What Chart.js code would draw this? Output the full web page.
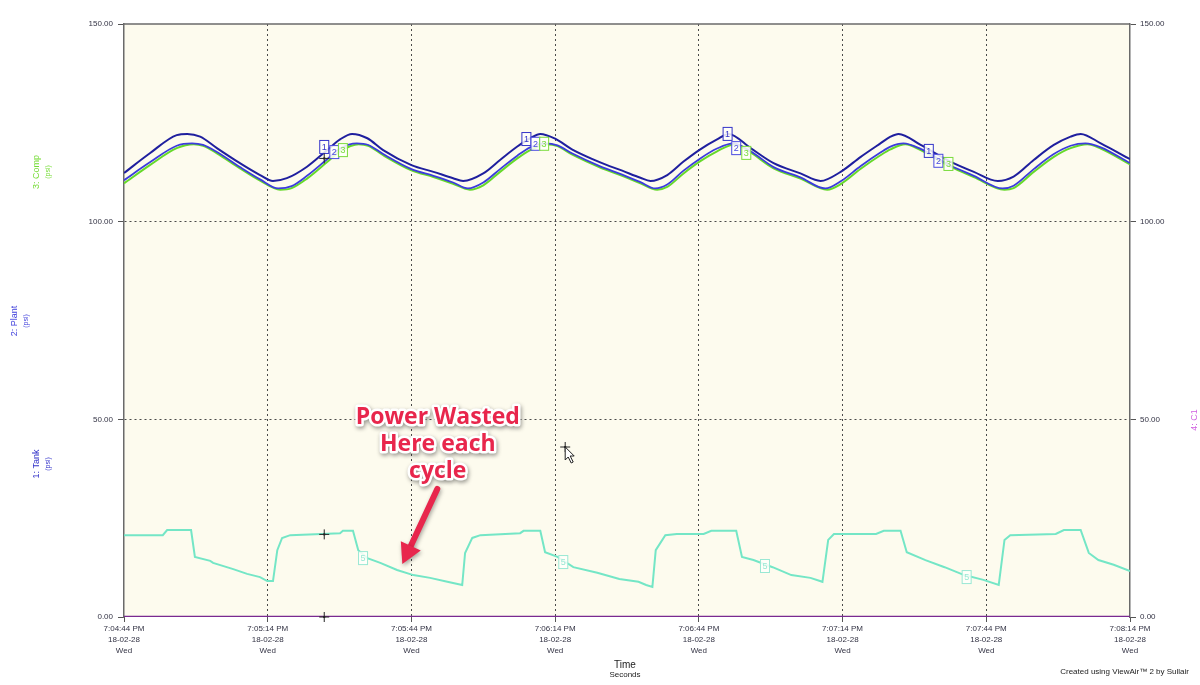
<!DOCTYPE html>
<html>
<head>
<meta charset="utf-8">
<title>Tank, plant and compressor pressure</title>
<script src="https://cdn.jsdelivr.net/npm/chart.js@4.4.1/dist/chart.umd.min.js"></script>
<style>
  html, body { margin: 0; padding: 0; background: #ffffff; }
  #wrap { width: 1200px; height: 685px; }
</style>
</head>
<body>
<div id="wrap"><canvas id="pressureChart" width="1200" height="685"></canvas></div>
<script>
// time axis, seconds after 7:04:44 PM
const tickSeconds = [0, 30, 60, 90, 120, 150, 180, 210];
const tickTimes = ["7:04:44 PM", "7:05:14 PM", "7:05:44 PM", "7:06:14 PM", "7:06:44 PM", "7:07:14 PM", "7:07:44 PM", "7:08:14 PM"];
const tickDate = "18-02-28";
const tickDay = "Wed";

// 1: Tank (psi)
const tankTime = [0, 5.4, 11.0, 13.2, 15.9, 19.4, 24.2, 28.4, 31.1, 34.0, 38.2, 42.4, 45.1, 47.6, 50.8, 54.1, 60.0, 64.6, 68.7, 70.8,
  75.0, 78.5, 82.1, 84.8, 86.9, 90.0, 93.5, 99.4, 104.0, 107.8, 109.9, 113.4, 116.8, 120.3, 123.8, 126.2, 130.8, 135.6, 141.2, 145.4,
  149.6, 153.8, 157.9, 160.0, 161.7, 166.3, 172.5, 177.4, 182.4, 185.7, 189.9, 194.1, 197.6, 199.7, 203.9, 210];
const tankPsi = [112.3, 117.3, 121.9, 122.2, 121.5, 118.6, 114.8, 111.8, 110.3, 111.0, 113.9, 118.1, 120.8, 122.2, 121.1, 118.1, 114.3, 112.6, 111.0, 110.3,
  112.2, 115.6, 119.0, 121.1, 122.2, 121.0, 118.3, 115.0, 112.9, 111.1, 110.3, 111.8, 115.2, 118.3, 120.8, 122.2, 118.6, 114.8, 112.2, 110.3,
  112.6, 116.4, 119.8, 121.5, 122.2, 119.4, 115.2, 112.6, 110.3, 111.4, 115.6, 119.4, 121.5, 122.2, 119.8, 115.8];

// 2: Plant (psi)
const plantTime = [0, 5.4, 11.0, 14.2, 16.5, 19.4, 24.2, 28.4, 32.2, 35.0, 38.2, 42.4, 45.1, 48.6, 51.0, 54.1, 60.0, 64.6, 68.7, 71.8,
  75.0, 78.5, 82.1, 84.8, 87.9, 90.5, 93.5, 99.4, 104.0, 107.8, 110.9, 113.4, 116.8, 120.3, 123.8, 127.2, 130.8, 135.6, 141.2, 146.4,
  149.6, 153.8, 157.9, 160.0, 162.7, 166.3, 172.5, 177.4, 183.4, 185.7, 189.9, 194.1, 197.6, 200.7, 203.9, 210];
const plantPsi = [110.5, 115.0, 119.2, 119.8, 119.4, 117.6, 113.8, 110.7, 108.4, 109.0, 111.6, 115.8, 118.5, 119.8, 119.4, 117.1, 113.3, 111.6, 109.9, 108.4,
  109.9, 113.3, 116.7, 118.8, 119.8, 119.3, 117.3, 114.0, 111.9, 110.0, 108.4, 109.4, 112.9, 116.0, 118.5, 119.8, 117.8, 113.8, 111.2, 108.4,
  110.2, 114.1, 117.5, 119.0, 119.8, 118.4, 114.2, 111.6, 108.4, 109.1, 113.3, 117.1, 119.2, 119.8, 118.8, 114.8];

// 3: Comp (psi)
const compTime = [0, 5.4, 11.0, 14.6, 16.5, 19.4, 24.2, 28.4, 32.6, 35.0, 38.2, 42.4, 45.1, 49.0, 51.0, 54.1, 60.0, 64.6, 68.7, 72.2,
  75.0, 78.5, 82.1, 84.8, 88.3, 90.5, 93.5, 99.4, 104.0, 107.8, 111.3, 113.4, 116.8, 120.3, 123.8, 127.6, 130.8, 135.6, 141.2, 146.8,
  149.6, 153.8, 157.9, 160.0, 163.1, 166.3, 172.5, 177.4, 183.8, 185.7, 189.9, 194.1, 197.6, 201.1, 203.9, 210];
const compPsi = [109.7, 114.3, 118.6, 119.6, 119.2, 117.3, 113.5, 110.4, 108.1, 108.5, 110.9, 115.1, 117.8, 119.6, 119.2, 116.8, 113.0, 111.3, 109.6, 108.1,
  109.2, 112.6, 116.0, 118.1, 119.6, 119.1, 117.0, 113.7, 111.6, 109.7, 108.1, 108.8, 112.2, 115.3, 117.8, 119.6, 117.5, 113.5, 110.9, 108.1,
  109.5, 113.4, 116.8, 118.3, 119.6, 118.1, 113.9, 111.3, 108.1, 108.5, 112.6, 116.4, 118.6, 119.6, 118.5, 114.5];

// 4: C1
const c1Time = [0, 210];
const c1Value = [0, 0];

// 5
const ch5Time = [0, 8.1, 9.0, 14.0, 14.8, 18.0, 18.6, 22.8, 25.7, 28.4, 29.9, 31.1, 32.0, 33.0, 34.7,
  45.1, 45.7, 47.8, 48.9, 50.8, 53.5, 57.0, 60.4, 63.9, 67.5, 70.6, 71.2, 72.7, 74.4,
  82.7, 83.4, 86.9, 87.9, 90.5, 93.8, 98.8, 103.4, 107.4, 109.0, 110.3, 111.0, 113.0, 115.4,
  121.0, 122.6, 127.8, 129.0, 131.4, 135.4, 139.3, 143.3, 145.8, 147.0, 148.2,
  157.0, 158.6, 162.1, 163.4, 167.3, 171.3, 175.4, 179.4, 182.6, 183.8, 185.0,
  194.5, 196.2, 199.7, 201.4, 203.4, 206.6, 210];
const ch5Value = [20.7, 20.7, 22.0, 22.0, 15.2, 14.2, 13.7, 12.1, 10.9, 10.1, 9.1, 9.1, 16.9, 20.0, 20.7,
  21.2, 21.8, 21.8, 16.9, 14.9, 13.7, 11.9, 10.6, 9.9, 8.9, 8.1, 16.2, 20.0, 20.7,
  21.2, 21.8, 21.8, 16.4, 15.2, 12.6, 11.2, 9.6, 8.9, 8.1, 7.6, 16.9, 20.7, 21.0,
  21.0, 21.8, 21.8, 15.2, 14.4, 12.6, 10.6, 9.9, 8.9, 19.5, 21.0,
  21.0, 21.8, 21.8, 16.4, 14.4, 12.6, 10.6, 9.4, 8.1, 19.5, 20.7,
  21.0, 22.0, 22.0, 16.2, 14.4, 13.2, 11.6];

// channel tags seen on the traces: [tag, seconds, value]
const traceTags = [
  ["1", 41.8, 118.9], ["2", 43.9, 117.6], ["3", 45.7, 118.1],
  ["1", 84.0, 120.9], ["2", 85.9, 119.7], ["3", 87.7, 119.7],
  ["1", 126.0, 122.2], ["2", 127.8, 118.6], ["3", 129.9, 117.4],
  ["1", 168.0, 117.9], ["2", 170.0, 115.4], ["3", 172.1, 114.6],
  ["5", 49.9, 14.9], ["5", 91.7, 13.9], ["5", 133.8, 12.9], ["5", 175.9, 10.1]
];
const cursorMarks = [[41.8, 116.0], [41.8, 20.9], [41.8, 0]];
const pointerAt = [92.1, 43.0];

const noteLines = ["Power Wasted", "Here each", "cycle"];
const noteAt = [65.5, 50.6];
const arrowFrom = [65.4, 32.4];
const arrowTo = [58.1, 13.4];

document.addEventListener("DOMContentLoaded", function () {
  const tankColor = "#1f1f9e";
  const plantColor = "#3c3cdc";
  const compColor = "#66d92a";
  const c1Color = "#7a2a90";
  const ch5Color = "#74e6c6";
  const tagColors = { "1": "#3434c8", "2": "#4a4ae0", "3": "#7adc3c", "5": "#9ae8d4" };
  const tickFont = { family: "'Liberation Sans', Arial, sans-serif", size: 8, lineHeight: 1.375 };
  const gridColor = "#4a4a4a";
  const axisColor = "#6a6a6a";

  const pts = (xs, ys) => xs.map((x, i) => ({ x: x, y: ys[i] }));

  const backdrop = {
    id: "backdrop",
    beforeDraw(chart) {
      const a = chart.chartArea;
      const ctx = chart.ctx;
      ctx.save();
      ctx.fillStyle = "#fdfbee";
      ctx.fillRect(a.left, a.top, a.width, a.height);
      ctx.restore();
    },
    afterDatasetsDraw(chart) {
      const ctx = chart.ctx;
      const xs = chart.scales.x;
      const ys = chart.scales.y;

      // tags on traces
      traceTags.forEach(function (t) {
        const x = xs.getPixelForValue(t[1]);
        const y = ys.getPixelForValue(t[2]);
        const c = tagColors[t[0]];
        ctx.save();
        ctx.fillStyle = "rgba(255,255,250,0.85)";
        ctx.fillRect(x - 4.5, y - 6.5, 9, 13);
        ctx.strokeStyle = c;
        ctx.lineWidth = 1;
        ctx.strokeRect(x - 4.5, y - 6.5, 9, 13);
        ctx.fillStyle = c;
        ctx.font = "9px 'Liberation Sans', Arial, sans-serif";
        ctx.textAlign = "center";
        ctx.textBaseline = "middle";
        ctx.fillText(t[0], x, y + 0.5);
        ctx.restore();
      });

      // cursor crosses
      ctx.save();
      ctx.strokeStyle = "#222";
      ctx.fillStyle = "#222";
      ctx.lineWidth = 1;
      cursorMarks.concat([pointerAt]).forEach(function (m) {
        const x = xs.getPixelForValue(m[0]);
        const y = ys.getPixelForValue(m[1]);
        ctx.beginPath();
        ctx.moveTo(x - 5, y); ctx.lineTo(x + 5, y);
        ctx.moveTo(x, y - 5); ctx.lineTo(x, y + 5);
        ctx.stroke();
        ctx.fillRect(x - 1, y - 1, 2, 2);
      });
      const px = xs.getPixelForValue(pointerAt[0]);
      const py = ys.getPixelForValue(pointerAt[1]);
      ctx.beginPath();
      ctx.moveTo(px, py);
      ctx.lineTo(px, py + 13);
      ctx.lineTo(px + 3, py + 10);
      ctx.lineTo(px + 6, py + 16);
      ctx.lineTo(px + 8, py + 15);
      ctx.lineTo(px + 5, py + 9);
      ctx.lineTo(px + 9, py + 9);
      ctx.closePath();
      ctx.fillStyle = "#ffffff";
      ctx.fill();
      ctx.stroke();
      ctx.restore();

      // note + arrow
      const ax1 = xs.getPixelForValue(arrowFrom[0]);
      const ay1 = ys.getPixelForValue(arrowFrom[1]);
      const ax2 = xs.getPixelForValue(arrowTo[0]);
      const ay2 = ys.getPixelForValue(arrowTo[1]);
      const ang = Math.atan2(ay2 - ay1, ax2 - ax1);
      const headLen = 20;
      const bx = ax2 - headLen * Math.cos(ang);
      const by = ay2 - headLen * Math.sin(ang);
      const nx = -Math.sin(ang), ny = Math.cos(ang);
      ctx.save();
      ctx.shadowColor = "rgba(0,0,0,0.35)";
      ctx.shadowBlur = 4;
      ctx.shadowOffsetX = 1;
      ctx.shadowOffsetY = 2;
      ctx.strokeStyle = "#e8264c";
      ctx.fillStyle = "#e8264c";
      ctx.lineWidth = 6;
      ctx.lineCap = "round";
      ctx.beginPath();
      ctx.moveTo(ax1, ay1);
      ctx.lineTo(bx, by);
      ctx.stroke();
      ctx.beginPath();
      ctx.moveTo(ax2, ay2);
      ctx.lineTo(bx + nx * 11, by + ny * 11);
      ctx.lineTo(bx - nx * 11, by - ny * 11);
      ctx.closePath();
      ctx.fill();
      ctx.restore();

      const tx = xs.getPixelForValue(noteAt[0]);
      const ty = ys.getPixelForValue(noteAt[1]);
      ctx.save();
      ctx.font = "bold 23px 'Open Sans', 'Liberation Sans', Arial, sans-serif";
      ctx.textAlign = "center";
      ctx.textBaseline = "middle";
      ctx.lineJoin = "round";
      noteLines.forEach(function (line, i) {
        const y = ty + i * 27;
        ctx.shadowColor = "rgba(0,0,0,0.4)";
        ctx.shadowBlur = 4;
        ctx.shadowOffsetX = 1;
        ctx.shadowOffsetY = 2;
        ctx.strokeStyle = "#ffffff";
        ctx.lineWidth = 5;
        ctx.strokeText(line, tx, y);
        ctx.shadowColor = "transparent";
        ctx.fillStyle = "#e8264c";
        ctx.fillText(line, tx, y);
      });
      ctx.restore();
    },
    afterDraw(chart) {
      const ctx = chart.ctx;
      const a = chart.chartArea;
      ctx.save();
      ctx.strokeStyle = axisColor;
      ctx.lineWidth = 1.5;
      ctx.beginPath();
      ctx.moveTo(a.left, a.top);
      ctx.lineTo(a.right, a.top);
      ctx.stroke();

      function vText(text, x, y, color, size) {
        ctx.save();
        ctx.translate(x, y);
        ctx.rotate(-Math.PI / 2);
        ctx.fillStyle = color;
        ctx.font = size + "px 'Liberation Sans', Arial, sans-serif";
        ctx.textAlign = "center";
        ctx.textBaseline = "middle";
        ctx.fillText(text, 0, 0);
        ctx.restore();
      }
      vText("3: Comp", 37, 172, "#74dc34", 9);
      vText("(psi)", 48, 172, "#74dc34", 7);
      vText("2: Plant", 15, 321, "#4040dc", 9);
      vText("(psi)", 26, 321, "#4040dc", 7);
      vText("1: Tank", 37, 464, "#3030c8", 9);
      vText("(psi)", 48, 464, "#3030c8", 7);
      vText("4: C1", 1195, 420, "#d060e0", 9);

      ctx.fillStyle = "#222";
      ctx.textAlign = "center";
      ctx.textBaseline = "middle";
      ctx.font = "10px 'Liberation Sans', Arial, sans-serif";
      ctx.fillText("Time", 625, 665);
      ctx.font = "8px 'Liberation Sans', Arial, sans-serif";
      ctx.fillText("Seconds", 625, 675);
      ctx.textAlign = "right";
      ctx.font = "8px 'Liberation Sans', Arial, sans-serif";
      ctx.fillText("Created using ViewAir\u2122 2 by Sullair", 1189, 672);
      ctx.restore();
    }
  };

  const ctx = document.getElementById("pressureChart").getContext("2d");

  new Chart(ctx, {
    type: "line",
    data: {
      datasets: [
        { label: "1: Tank", data: pts(tankTime, tankPsi), borderColor: tankColor, borderWidth: 2, cubicInterpolationMode: "monotone" },
        { label: "2: Plant", data: pts(plantTime, plantPsi), borderColor: plantColor, borderWidth: 1.8, cubicInterpolationMode: "monotone" },
        { label: "3: Comp", data: pts(compTime, compPsi), borderColor: compColor, borderWidth: 2, cubicInterpolationMode: "monotone" },
        { label: "4: C1", data: pts(c1Time, c1Value), borderColor: c1Color, borderWidth: 2.5 },
        { label: "5", data: pts(ch5Time, ch5Value), borderColor: ch5Color, borderWidth: 2, tension: 0 }
      ]
    },
    options: {
      responsive: false,
      animation: false,
      events: [],
      elements: { point: { radius: 0 }, line: { fill: false } },
      layout: { padding: { top: 24, left: 0, right: 0, bottom: 0 } },
      plugins: {
        legend: { display: false },
        tooltip: { enabled: false }
      },
      scales: {
        x: {
          type: "linear",
          min: tickSeconds[0],
          max: tickSeconds[tickSeconds.length - 1],
          afterFit: function (s) { s.height = 68; },
          afterBuildTicks: function (s) { s.ticks = tickSeconds.map(v => ({ value: v })); },
          ticks: {
            autoSkip: false,
            maxRotation: 0,
            color: "#333344",
            font: tickFont,
            padding: 1,
            callback: function (v, i) { return [tickTimes[i], tickDate, tickDay]; }
          },
          grid: {
            color: c => (c.tick && (c.tick.value === 0 || c.tick.value === 210)) ? "rgba(0,0,0,0)" : gridColor,
            tickColor: "#555",
            tickLength: 5,
            lineWidth: 1
          },
          border: { display: false, dash: [2, 3] }
        },
        y: {
          position: "left",
          min: 0,
          max: 150,
          afterFit: function (s) { s.width = 124; },
          ticks: { stepSize: 50, color: "#333344", font: tickFont, padding: 5, callback: v => v.toFixed(2) },
          grid: {
            color: c => (c.tick && (c.tick.value === 0 || c.tick.value === 150)) ? "rgba(0,0,0,0)" : gridColor,
            tickColor: "#555",
            tickLength: 6,
            lineWidth: 1
          },
          border: { color: axisColor, width: 1.5, dash: [2, 3] }
        },
        y2: {
          position: "right",
          min: 0,
          max: 150,
          afterFit: function (s) { s.width = 70; },
          ticks: { stepSize: 50, color: "#333344", font: tickFont, padding: 4, callback: v => v.toFixed(2) },
          grid: { drawOnChartArea: false, tickColor: "#555", tickLength: 6 },
          border: { color: axisColor, width: 1.5 }
        }
      }
    },
    plugins: [backdrop]
  });
});
</script>
</body>
</html>
